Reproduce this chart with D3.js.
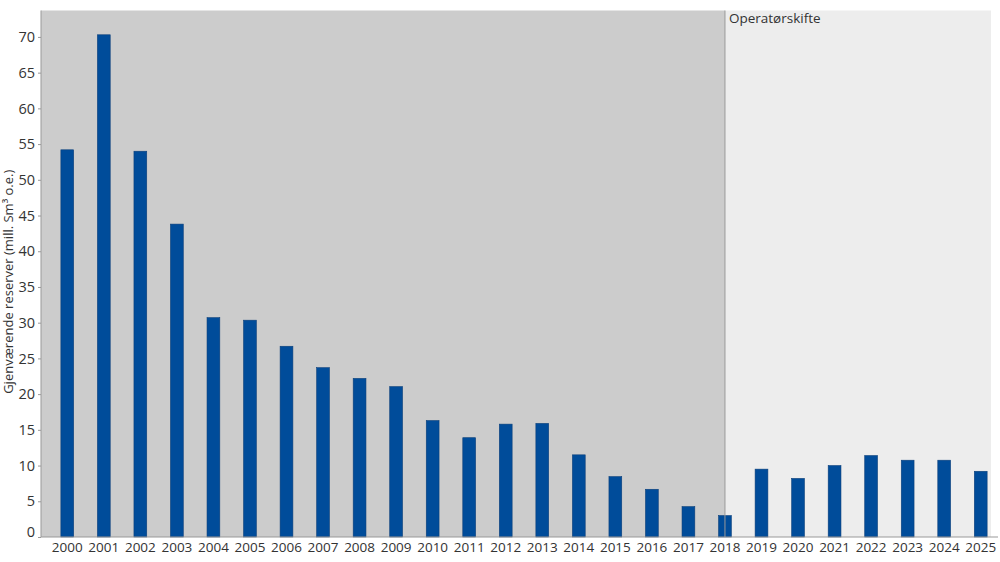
<!DOCTYPE html>
<html>
<head>
<meta charset="utf-8">
<script src="https://cdn.jsdelivr.net/npm/d3@7"></script>
<style>
  body { margin: 0; background: #fff; }
  svg { display: block; font-family: "Open Sans", "Noto Sans", sans-serif; }
</style>
</head>
<body>
<svg id="svg" width="1000" height="562"></svg>
<script>
const years = ['2000', '2001', '2002', '2003', '2004', '2005', '2006', '2007', '2008', '2009',
	'2010', '2011', '2012', '2013', '2014', '2015', '2016', '2017', '2018', '2019',
	'2020', '2021', '2022', '2023', '2024', '2025']
const reserves = [54.2, 70.3, 54.0, 43.8, 30.7, 30.35, 26.7, 23.7, 22.2, 21.05,
	16.3, 13.9, 15.8, 15.9, 11.5, 8.45, 6.68, 4.25, 3.0, 9.5,
	8.2, 10.0, 11.4, 10.75, 10.75, 9.2]
const yTicks = [0, 5, 10, 15, 20, 25, 30, 35, 40, 45, 50, 55, 60, 65, 70]
const shiftYear = '2018'
const shiftLabel = 'Operatørskifte'
const yTitle = 'Gjenværende reserver (mill. Sm³ o.e.)'

const $svg = d3.select('#svg')
const plot = { left: 41, right: 991, top: 10.5, bottom: 537 }
const font = '"Open Sans", "Noto Sans", sans-serif'

const x = d3.scaleBand()
	.domain(years)
	.range([49, 999])
	.paddingInner(0.65)
	.paddingOuter(0.325)

const y = d3.scaleLinear()
	.domain([0, 73.7])
	.range([plot.bottom, plot.top])

const shiftX = x(shiftYear) + x.bandwidth() / 2

// background bands
$svg.append('rect')
	.attr('x', plot.left).attr('y', plot.top)
	.attr('width', shiftX - plot.left).attr('height', plot.bottom - plot.top)
	.attr('fill', '#cccccc')
$svg.append('rect')
	.attr('x', shiftX).attr('y', plot.top)
	.attr('width', plot.right - shiftX).attr('height', plot.bottom - plot.top)
	.attr('fill', '#ededed')

// bars
$svg.append('g')
	.selectAll('rect')
	.data(years.map((year, i) => ({ year, value: reserves[i] })))
	.join('rect')
	.attr('x', d => x(d.year))
	.attr('y', d => y(d.value))
	.attr('width', x.bandwidth())
	.attr('height', d => y(0) - y(d.value))
	.attr('fill', '#004c9a')
	.attr('stroke', '#0b3f7a')
	.attr('stroke-width', 0.6)

// divider
$svg.append('line')
	.attr('x1', shiftX).attr('x2', shiftX)
	.attr('y1', plot.top).attr('y2', plot.bottom)
	.attr('stroke', '#999')
	.attr('stroke-width', 1)

$svg.append('text')
	.attr('x', shiftX + 4)
	.attr('y', 23)
	.attr('font-size', 13.5)
	.attr('fill', '#333')
	.text(shiftLabel)

// y axis
const yAxis = $svg.append('g')
	.attr('transform', `translate(${plot.left},0)`)
	.call(d3.axisLeft(y).tickValues(yTicks).tickSize(3).tickPadding(3))
yAxis.select('.domain').attr('stroke', '#999').attr('d', `M0,${plot.top}V${plot.bottom}`)
yAxis.selectAll('.tick line').attr('stroke', '#999')
yAxis.selectAll('.tick text')
	.attr('font-size', 14.5)
	.attr('fill', '#333')
	.attr('font-family', font)
	.attr('dy', d => d === 0 ? '-0.05em' : '0.32em')

// x axis
const xAxis = $svg.append('g')
	.attr('transform', `translate(0,${plot.bottom})`)
	.call(d3.axisBottom(x).tickSize(0).tickPadding(5))
xAxis.select('.domain').attr('stroke', '#999').attr('d', `M${plot.left},0H998`)
xAxis.selectAll('.tick text')
	.attr('font-size', 13.5)
	.attr('fill', '#333')
	.attr('font-family', font)

// y title
$svg.append('text')
	.attr('transform', `translate(13,${(plot.top + plot.bottom) / 2 + 8}) rotate(-90)`)
	.attr('text-anchor', 'middle')
	.attr('font-size', 13)
	.attr('fill', '#333')
	.text(yTitle)
</script>
</body>
</html>
